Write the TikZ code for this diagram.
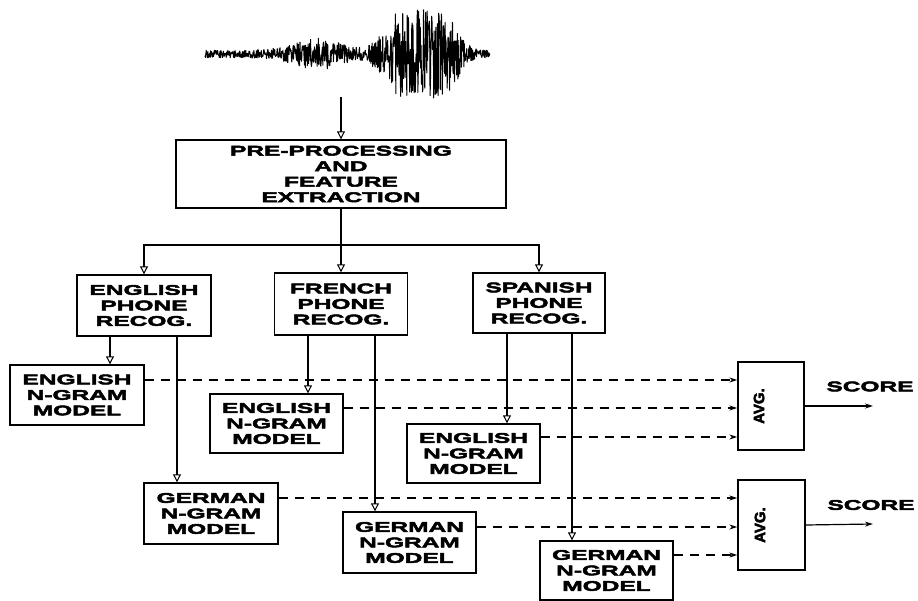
\documentclass[tikz,border=0pt]{standalone}
\usepackage{fontspec}
\setmainfont{Liberation Sans}
\newfontfamily\wfont[FakeStretch=1.75,FakeBold=3.5]{Liberation Sans Bold}
\newfontfamily\nfont[FakeBold=3]{Liberation Sans Bold}
\usetikzlibrary{arrows.meta}
\begin{document}
\begin{tikzpicture}[x=1pt,y=-1pt,
  box/.style={draw, line width=1.4pt, inner sep=0pt, align=center,
    font=\wfont\fontsize{14}{15.5}\selectfont},
  arr/.style={line width=1.3pt, -{Triangle[open,length=8pt,width=8pt,line width=1pt]}},
  dasharr/.style={line width=1.2pt, dash pattern=on 9pt off 7pt, -{Stealth[length=8pt,width=5pt]}},
  outarr/.style={line width=1.2pt, -{Stealth[length=8pt,width=5pt]}},
  lbl/.style={font=\wfont\fontsize{14}{15.5}\selectfont},
  avglbl/.style={rotate=90, font=\nfont\fontsize{15}{16}\selectfont}]
\useasboundingbox (0,0) rectangle (918,601);

% waveform
\pgfmathsetseed{12}
\draw[line width=1pt, line join=round]
  plot[domain=205:490, samples=700]
  (\x, {54 + (3.8 + 12*exp(-((\x-318)/32)^2) + 42*exp(-((\x-420)/42)^4))*rand});

\coordinate (wav) at (341,97);

% boxes
\node[box, minimum width=330pt, minimum height=68pt] (pp) at (341,174)
  {PRE-PROCESSING\\AND\\FEATURE\\EXTRACTION};
\node[box, minimum width=134pt, minimum height=61pt] (engph) at (144,305.5)
  {ENGLISH\\PHONE\\RECOG.};
\node[box, minimum width=133pt, minimum height=62pt] (frph) at (341,304)
  {FRENCH\\PHONE\\RECOG.};
\node[box, minimum width=132pt, minimum height=60pt] (spph) at (539,303)
  {SPANISH\\PHONE\\RECOG.};

\node[box, minimum width=134pt, minimum height=60pt] (engn1) at (77,395)
  {ENGLISH\\N-GRAM\\MODEL};
\node[box, minimum width=133pt, minimum height=59pt] (engn2) at (276.5,423.5)
  {ENGLISH\\N-GRAM\\MODEL};
\node[box, minimum width=133pt, minimum height=59pt] (engn3) at (473.5,453.5)
  {ENGLISH\\N-GRAM\\MODEL};
\node[box, minimum width=134pt, minimum height=61pt] (ger1) at (211,513.5)
  {GERMAN\\N-GRAM\\MODEL};
\node[box, minimum width=133pt, minimum height=61pt] (ger2) at (409.5,542.5)
  {GERMAN\\N-GRAM\\MODEL};
\node[box, minimum width=133pt, minimum height=59pt] (ger3) at (606.5,570.5)
  {GERMAN\\N-GRAM\\MODEL};

\node[box, minimum width=66pt, minimum height=88pt] (avg1) at (771,406) {};
\node[box, minimum width=67pt, minimum height=90pt] (avg2) at (771.5,525) {};
\node[avglbl] (avg1t) at (759,406) {AVG.};
\node[avglbl] (avg2t) at (760,525) {AVG.};

\node[lbl] (score1) at (870,386.5) {SCORE};
\node[lbl] (score2) at (871,505) {SCORE};
\coordinate (s1) at (873,406);
\coordinate (s2) at (873,524);

% helper coordinates
\coordinate (br) at (0,245);
\coordinate (c1) at (110,0);
\coordinate (c2) at (177,0);
\coordinate (c3) at (308,0);
\coordinate (c4) at (375,0);
\coordinate (c5) at (507,0);
\coordinate (c6) at (572,0);
\coordinate (r1) at (0,380);
\coordinate (r2) at (0,408);
\coordinate (r3) at (0,437);
\coordinate (r4) at (0,498);
\coordinate (r5) at (0,527);
\coordinate (r6) at (0,555);

% solid connectors
\draw[arr] (wav) -- (pp.north);
\draw[arr] (pp.south) -- (frph.north);
\draw[arr] (pp.south |- br) -| (engph.north);
\draw[arr] (pp.south |- br) -| (spph.north);

\draw[arr] (engph.south -| c1) -- (engn1.north -| c1);
\draw[arr] (engph.south -| c2) -- (ger1.north -| c2);
\draw[arr] (frph.south -| c3) -- (engn2.north -| c3);
\draw[arr] (frph.south -| c4) -- (ger2.north -| c4);
\draw[arr] (spph.south -| c5) -- (engn3.north -| c5);
\draw[arr] (spph.south -| c6) -- (ger3.north -| c6);

% dashed connectors
\draw[dasharr] (engn1.east |- r1) -- (avg1.west |- r1);
\draw[dasharr] (engn2.east |- r2) -- (avg1.west |- r2);
\draw[dasharr] (engn3.east |- r3) -- (avg1.west |- r3);
\draw[dasharr] (ger1.east |- r4) -- (avg2.west |- r4);
\draw[dasharr] (ger2.east |- r5) -- (avg2.west |- r5);
\draw[dasharr] (ger3.east |- r6) -- (avg2.west |- r6);

% outputs
\draw[outarr] (avg1.east) -- (s1);
\draw[outarr] (avg2.east) -- (s2);
\end{tikzpicture}
\end{document}
